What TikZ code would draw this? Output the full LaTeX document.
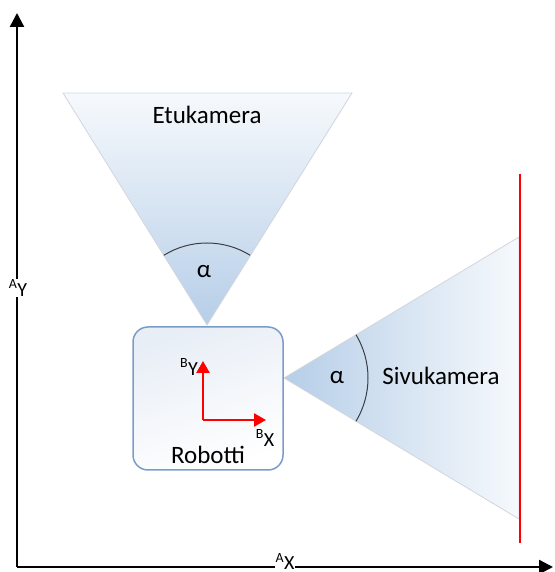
\documentclass[tikz,border=0pt]{standalone}
\usepackage{fontspec}
\setmainfont{Carlito}
\usetikzlibrary{arrows.meta,calc}
\definecolor{camblue}{RGB}{182,206,232}
\definecolor{camlight}{RGB}{246,249,252}
\definecolor{boxedge}{RGB}{124,156,200}
\definecolor{boxtint}{RGB}{232,238,246}
\definecolor{fovedge}{RGB}{210,214,220}
\definecolor{arcgray}{RGB}{60,64,70}
\tikzset{
  axis/.style={line width=2.4pt,-{Triangle[length=14pt,width=14pt]}},
  fov/.style={draw=fovedge,line width=0.8pt},
  fovarc/.style={draw=arcgray,line width=1pt},
  robotbox/.style={draw=boxedge,line width=1.5pt,rounded corners=15pt},
  frameaxis/.style={draw=red,line width=2.5pt,-{Triangle[length=12pt,width=13pt]}},
  lbl/.style={font=\fontsize{25}{29}\selectfont,inner sep=1pt},
  axlbl/.style={font=\fontsize{20}{24}\selectfont,fill=white,inner sep=1pt},
}
\begin{document}
\begin{tikzpicture}[x=1pt,y=1pt]
\useasboundingbox (0,0) rectangle (554,572);

% world axes
\coordinate (O) at (17,5);
\coordinate (Ytip) at (17,559);
\coordinate (Xtip) at (553,5);
\draw[axis] (O) -- (Ytip);
\draw[axis] (O) -- (Xtip);
\node[axlbl] (AY) at (18,284) {\textsuperscript{A}Y};
\node[axlbl,anchor=base,inner ysep=0.5pt] (AX) at (285,2) {\textsuperscript{A}X};

% front camera field of view
\coordinate (Eapex) at (207,247);
\coordinate (Eleft) at (63,479);
\coordinate (Eright) at (352,479);
\shade[top color=camlight,bottom color=camblue] (Eleft) -- (Eright) -- (Eapex) -- cycle;
\draw[fov] (Eleft) -- (Eright) -- (Eapex) -- cycle;
\draw[fovarc] ($(Eapex)+(58.2:82)$) arc[start angle=58.2,end angle=121.8,radius=82];
\node[lbl] (Ealpha) at (204,300) {α};
\node[lbl] (Etu) at (207,457) {Etukamera};

% side camera field of view
\coordinate (Sapex) at (284,194);
\coordinate (Stop) at (519,335);
\coordinate (Sbot) at (519,53);
\shade[left color=camblue,right color=camlight] (Sapex) -- (Stop) -- (Sbot) -- cycle;
\draw[fov] (Sapex) -- (Stop) -- (Sbot) -- cycle;
\draw[fovarc] ($(Sapex)+(-31:84)$) arc[start angle=-31,end angle=31,radius=84];
\node[lbl] (Salpha) at (337,194) {α};
\node[lbl] (Sivu) at (441,196) {Sivukamera};

% wall seen by the side camera
\coordinate (Wtop) at (520,398);
\coordinate (Wbot) at (520,29);
\draw[red,line width=2pt] (Wtop) -- (Wbot);

% robot body
\shade[rounded corners=15pt,top color=boxtint,bottom color=white,shading angle=20] (133,102) rectangle (283,245);
\draw[robotbox] (133,102) rectangle (283,245);
\node[lbl] (Rob) at (208,117) {Robotti};

% robot frame
\coordinate (B) at (203,152);
\coordinate (BYtip) at (203,211);
\coordinate (BXtip) at (266,152);
\draw[frameaxis] (B) -- (BYtip);
\draw[frameaxis] (B) -- (BXtip);
\node[axlbl,fill=none] (BY) at (189,205) {\textsuperscript{B}Y};
\node[axlbl,fill=none] (BX) at (265,134) {\textsuperscript{B}X};
\end{tikzpicture}
\end{document}
